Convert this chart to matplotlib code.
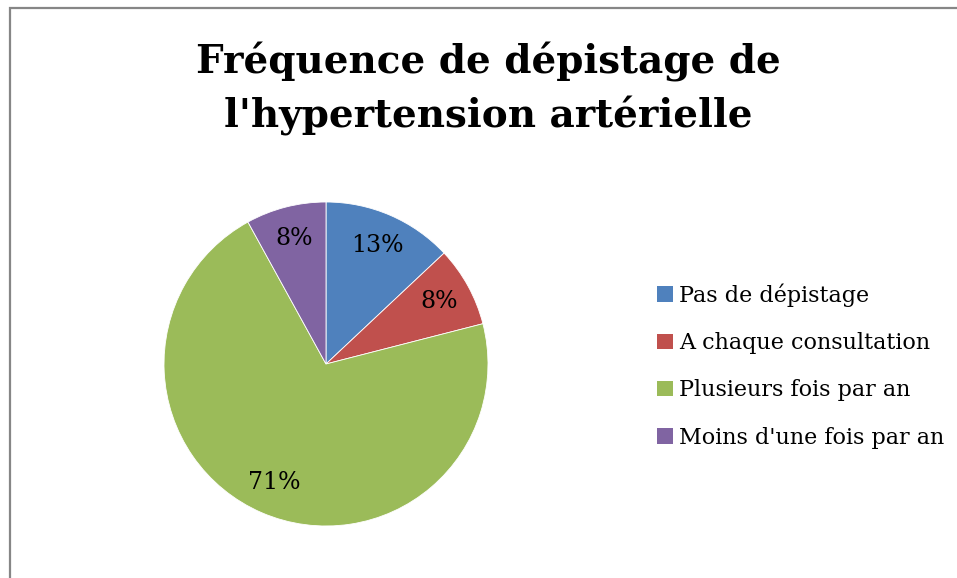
import matplotlib
matplotlib.use("Agg")
import matplotlib.pyplot as plt
from matplotlib.patches import Rectangle, Patch

# Data
categories = ["Pas de dépistage", "A chaque consultation",
              "Plusieurs fois par an", "Moins d'une fois par an"]
shares = [13, 8, 71, 8]
colors = ["#4F81BD", "#C0504D", "#9BBB59", "#8064A2"]
title = "Fréquence de dépistage de\nl'hypertension artérielle"

SERIF = ["DejaVu Serif"]

fig = plt.figure(figsize=(9.57, 5.78), dpi=100, facecolor="white")

# chart border (right and bottom run off the picture)
fig.patches.append(Rectangle((9.5 / 957, -0.05), 1.1, 1.05 - 8.5 / 578,
                             transform=fig.transFigure, fill=False,
                             edgecolor="#868686", linewidth=1.6))

fig.text(488 / 957, 1 - 89 / 578, title, ha="center", va="center",
         fontsize=28, fontweight="bold", family=SERIF,
         linespacing=1.47, color="black")

ax = fig.add_axes([164 / 957, 52 / 578, 324 / 957, 324 / 578])
wedges, texts, autotexts = ax.pie(
    shares, colors=colors, startangle=90, counterclock=False,
    autopct="%1.0f%%", pctdistance=0.8,
    wedgeprops=dict(edgecolor="white", linewidth=0.6),
    textprops=dict(fontsize=17, family=SERIF, color="black"))
ax.set_xlim(-1, 1)
ax.set_ylim(-1, 1)
ax.set_aspect("equal")

handles = [Patch(facecolor=c, edgecolor="none") for c in colors]
fig.legend(handles, categories, loc="center left",
           bbox_to_anchor=(657 / 957, 1 - 366 / 578), frameon=False,
           prop=dict(family=SERIF, size=16), handlelength=0.7,
           handleheight=0.7, handletextpad=0.3, labelspacing=1.14,
           borderaxespad=0, borderpad=0)

fig.savefig("out.png", dpi=100, facecolor="white")
